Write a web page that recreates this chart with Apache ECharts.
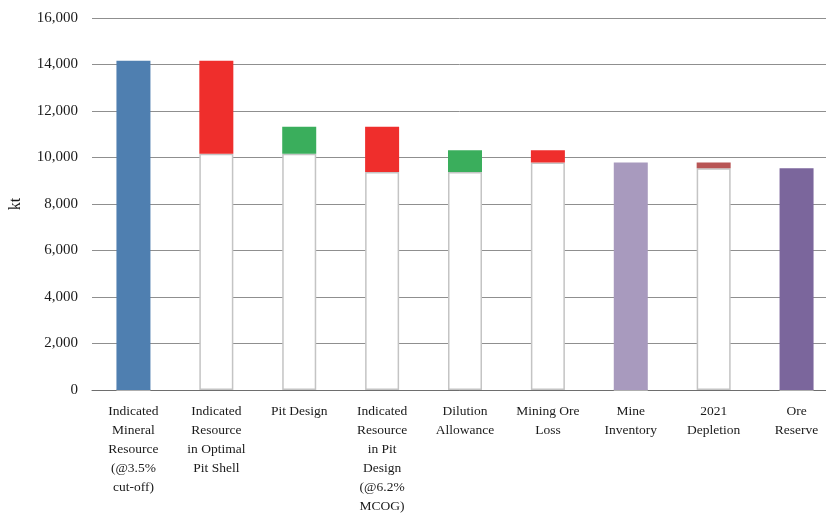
<!DOCTYPE html>
<html><head><meta charset="utf-8">
<script src="https://cdn.jsdelivr.net/npm/echarts@6/dist/echarts.min.js"></script>
<style>html,body{margin:0;padding:0;background:#fff}#c{width:826px;height:513px}</style>
</head><body><div id="c"></div>
<script>
const categories = ['Indicated\nMineral\nResource\n(@3.5%\ncut-off)', 'Indicated\nResource\nin Optimal\nPit Shell', 'Pit Design', 'Indicated\nResource\nin Pit\nDesign\n(@6.2%\nMCOG)', 'Dilution\nAllowance', 'Mining Ore\nLoss', 'Mine\nInventory', '2021\nDepletion', 'Ore\nReserve'];
const levels = [14160, 10160, 11320, 9380, 10310, 9780, 9780, 9540, 9540];
const kinds = ['total', 'decrease', 'increase', 'decrease', 'increase', 'decrease', 'total', 'decrease', 'total'];
const barColors = ['#4f7fb0', '#ef2e2c', '#3aae5c', '#ef2e2c', '#3aae5c', '#ef2e2c', '#a89abe', '#b85555', '#7b669c'];
const yTicks = [0, 2000, 4000, 6000, 8000, 10000, 12000, 14000, 16000];

const base = [], delta = [];
levels.forEach((v, i) => {
  const prev = i > 0 ? levels[i - 1] : 0;
  if (kinds[i] === 'total') { base.push(0); delta.push(v); }
  else if (kinds[i] === 'decrease') { base.push(v); delta.push(prev - v); }
  else { base.push(prev); delta.push(v - prev); }
});

const chart = echarts.init(document.getElementById('c'), null, {renderer: 'canvas'});
const serif = '"Liberation Serif", "Times New Roman", serif';
chart.setOption({
  animation: false,
  grid: {left: 92, top: 18, right: -12, bottom: 123, containLabel: false, outerBoundsMode: 'none'},
  xAxis: {
    type: 'category', data: categories,
    axisLine: {lineStyle: {color: '#6e6e6e', width: 1}},
    axisTick: {show: false},
    axisLabel: {interval: 0, color: '#1a1a1a', fontFamily: serif, fontSize: 13.5, lineHeight: 19, margin: 12, verticalAlign: 'top'}
  },
  yAxis: {
    type: 'value', min: yTicks[0], max: yTicks[yTicks.length - 1], interval: 2000,
    name: 'kt', nameLocation: 'middle', nameGap: 68, nameRotate: 90,
    nameTextStyle: {fontFamily: serif, fontSize: 16, color: '#1a1a1a'},
    axisLine: {show: false}, axisTick: {show: false},
    splitLine: {lineStyle: {color: '#8f8f8f', width: 1}},
    axisLabel: {color: '#1a1a1a', fontFamily: serif, fontSize: 15, margin: 14,
      formatter: v => v.toLocaleString('en-US')}
  },
  series: [
    {type: 'bar', stack: 'w', data: base, barWidth: 34,
      itemStyle: {color: '#ffffff', borderColor: '#c4c4c4', borderWidth: 1.5},
      silent: true},
    {type: 'bar', stack: 'w', barWidth: 34,
      data: delta.map((v, i) => ({value: v, itemStyle: {color: barColors[i]}}))}
  ]
});
</script></body></html>
